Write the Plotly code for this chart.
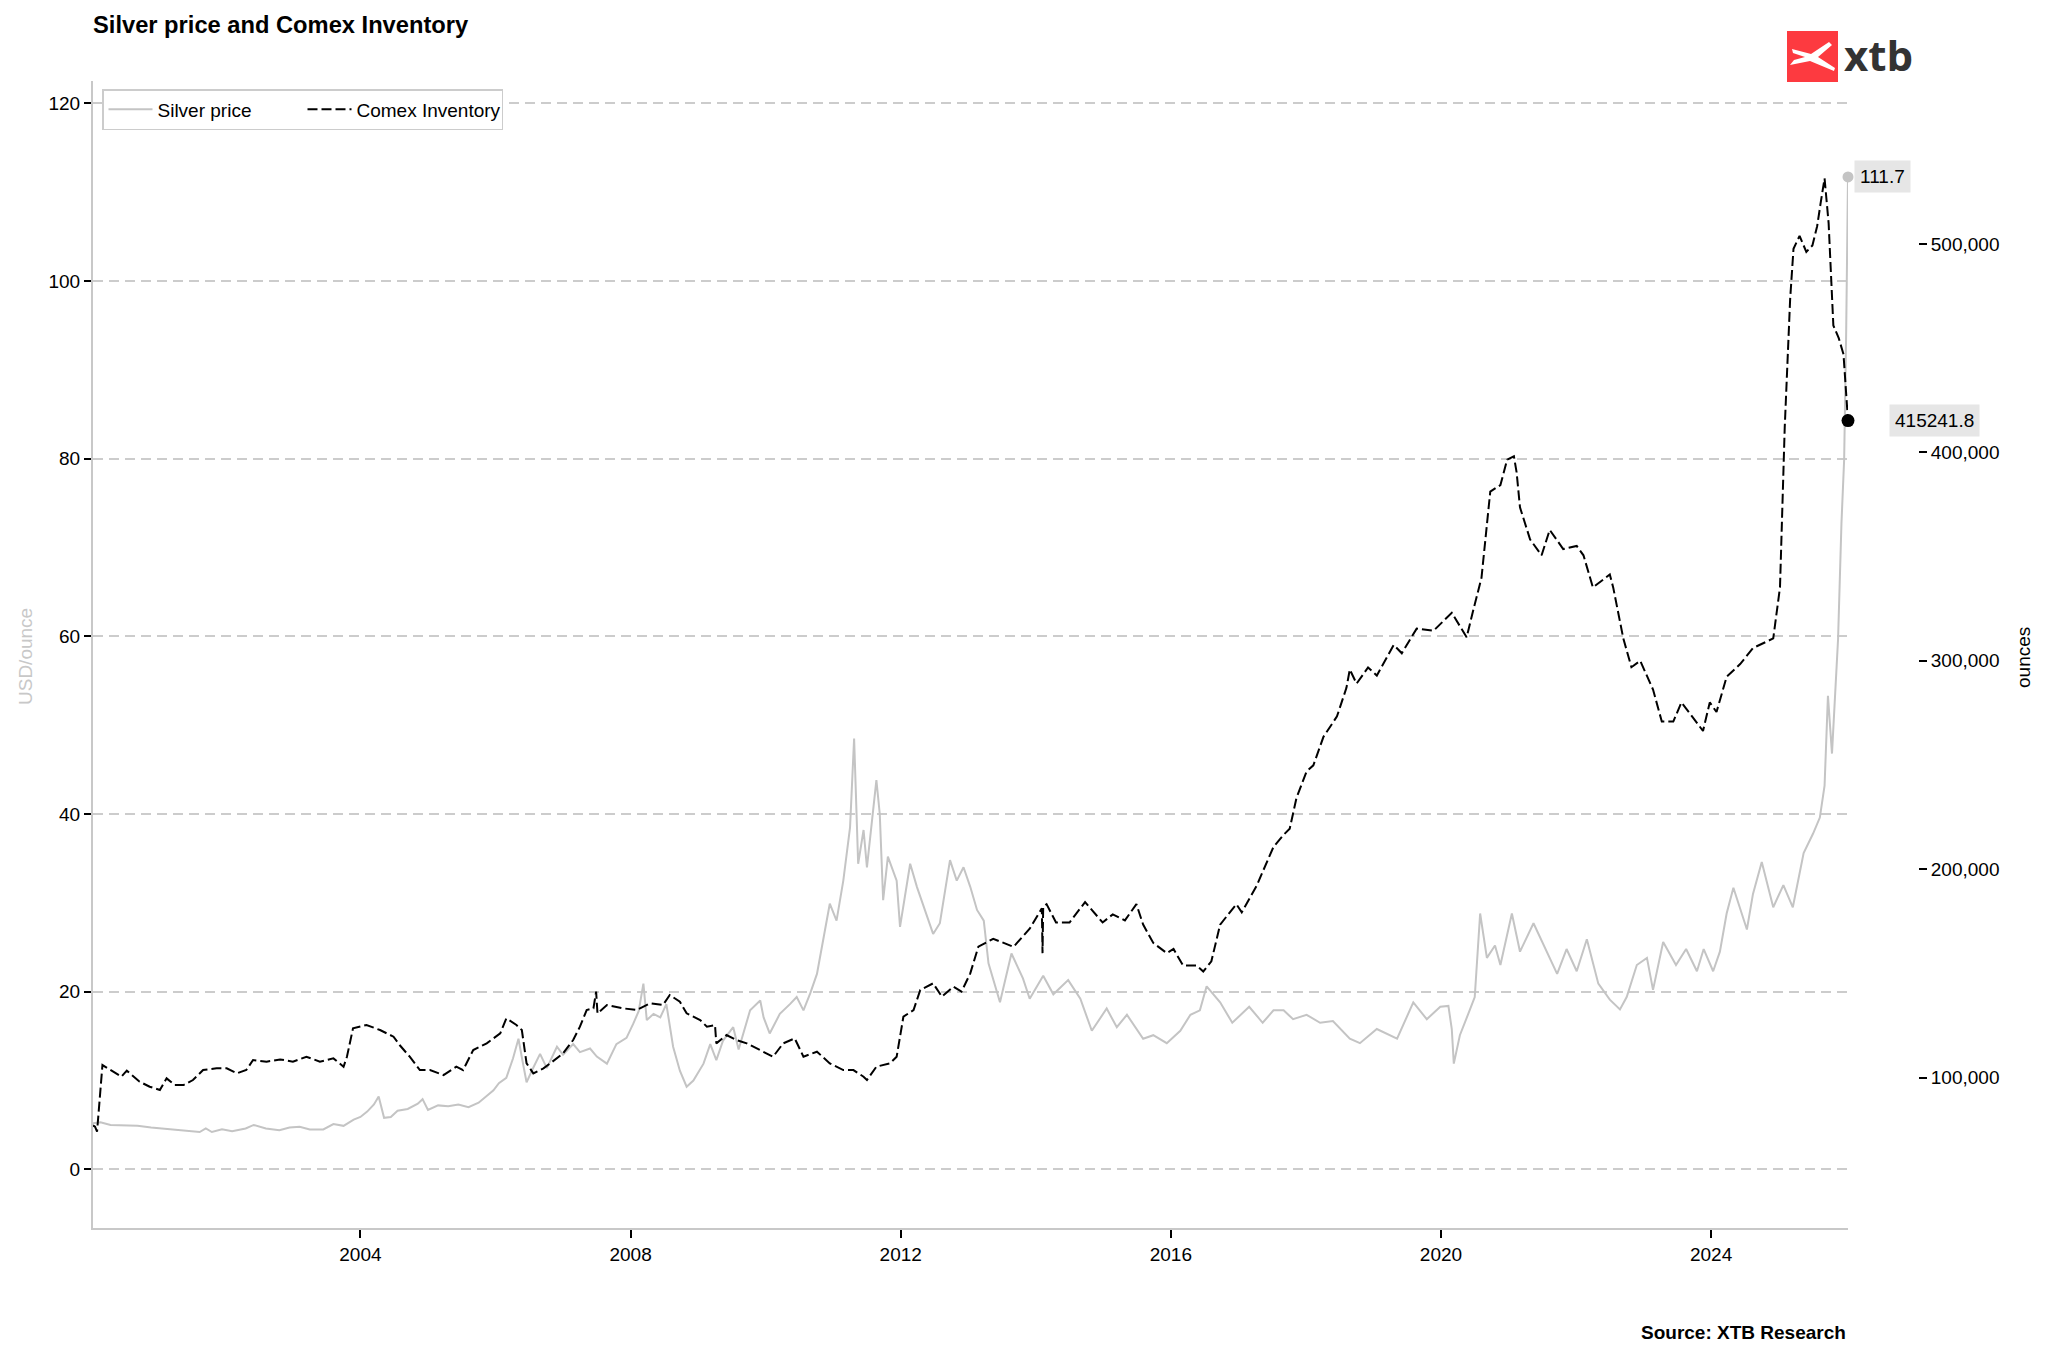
import plotly.graph_objects as go

# ---------------- data ----------------
silver_years = [
    2000.04, 2000.15, 2000.30, 2000.50, 2000.70, 2000.90,
    2001.05, 2001.25, 2001.45, 2001.62, 2001.71, 2001.80, 2001.95,
    2002.10, 2002.30, 2002.42, 2002.60, 2002.80, 2002.95,
    2003.10, 2003.25, 2003.45, 2003.60, 2003.75, 2003.90, 2004.00,
    2004.10, 2004.20, 2004.27, 2004.35, 2004.45, 2004.55, 2004.70, 2004.85, 2004.92, 2005.00,
    2005.15, 2005.30, 2005.45, 2005.60, 2005.75, 2005.87, 2005.97,
    2006.05, 2006.16, 2006.26, 2006.34, 2006.40, 2006.46, 2006.55, 2006.66, 2006.76, 2006.91,
    2007.00, 2007.15, 2007.25, 2007.40, 2007.50, 2007.65, 2007.79, 2007.94,
    2008.04, 2008.12, 2008.19, 2008.24, 2008.34, 2008.44, 2008.53, 2008.63, 2008.73, 2008.83, 2008.93,
    2009.08, 2009.18, 2009.27, 2009.37, 2009.52, 2009.60, 2009.67, 2009.77, 2009.92, 2009.97,
    2010.06, 2010.21, 2010.36, 2010.46, 2010.56, 2010.66, 2010.76, 2010.85, 2010.95,
    2011.05, 2011.15, 2011.25, 2011.31, 2011.37, 2011.45, 2011.50, 2011.59, 2011.64, 2011.69,
    2011.74, 2011.81, 2011.94, 2011.99,
    2012.14, 2012.24, 2012.38, 2012.48, 2012.58, 2012.73, 2012.83, 2012.93,
    2013.03, 2013.13, 2013.23, 2013.30, 2013.47, 2013.64, 2013.81, 2013.91,
    2014.11, 2014.26, 2014.48, 2014.66, 2014.83,
    2015.05, 2015.20, 2015.35, 2015.59, 2015.74, 2015.94,
    2016.14, 2016.29, 2016.43, 2016.53, 2016.73, 2016.91,
    2017.16, 2017.36, 2017.52, 2017.67, 2017.81,
    2018.01, 2018.21, 2018.40, 2018.65, 2018.80,
    2019.05, 2019.35, 2019.59, 2019.79, 2019.99,
    2020.11, 2020.16, 2020.19, 2020.28, 2020.43, 2020.50, 2020.58, 2020.68, 2020.80, 2020.88,
    2021.05, 2021.17, 2021.37, 2021.57, 2021.72, 2021.86,
    2022.01, 2022.16, 2022.33, 2022.50, 2022.65, 2022.75, 2022.90,
    2023.05, 2023.14, 2023.29, 2023.48, 2023.63, 2023.79, 2023.89,
    2024.03, 2024.13, 2024.23, 2024.33, 2024.53, 2024.62, 2024.75, 2024.92,
    2025.07, 2025.21, 2025.37, 2025.51, 2025.61, 2025.68, 2025.73, 2025.79, 2025.84,
    2025.88, 2025.93, 2025.97, 2026.00, 2026.027,
]
silver_prices = [
    5.2, 5.3, 5.0, 4.95, 4.9, 4.7,
    4.6, 4.4, 4.35, 4.2, 4.6, 4.2, 4.5,
    4.3, 4.6, 5.0, 4.6, 4.4, 4.7,
    4.8, 4.5, 4.5, 5.1, 4.9, 5.6, 5.9,
    6.5, 7.3, 8.2, 5.8, 5.9, 6.6, 6.8, 7.4, 7.9, 6.7,
    7.2, 7.1, 7.3, 7.0, 7.5, 8.3, 8.9,
    9.7, 10.3, 12.5, 14.7, 12.2, 9.8, 11.3, 13.0, 11.4, 13.8,
    12.9, 14.1, 13.2, 13.6, 12.7, 11.9, 14.1, 14.8,
    16.4, 17.8, 20.9, 16.8, 17.5, 17.1, 18.6, 13.8, 11.1, 9.3, 10.0,
    11.9, 14.1, 12.3, 14.5, 16.0, 13.5, 15.3, 17.9, 19.0, 17.1,
    15.3, 17.5, 18.6, 19.4, 17.9, 19.8, 22.0, 25.8, 29.9,
    28.0, 32.5, 38.5, 48.5, 34.4, 38.2, 34.0, 40.8, 43.8, 40.0,
    30.3, 35.2, 32.5, 27.3,
    34.4, 31.8, 28.8, 26.5, 27.7, 34.8, 32.5, 34.0,
    31.8, 29.2, 28.0, 23.2, 18.8, 24.3, 21.5, 19.2,
    21.8, 19.7, 21.3, 19.2, 15.6,
    18.1, 16.0, 17.4, 14.7, 15.1, 14.2,
    15.6, 17.4, 17.9, 20.6, 18.8, 16.5,
    18.3, 16.5, 17.9, 17.9, 16.9,
    17.4, 16.5, 16.7, 14.7, 14.2,
    15.8, 14.7, 18.8, 16.9, 18.3,
    18.4, 15.8, 11.9, 15.1, 18.0, 19.4, 28.8, 23.8, 25.2, 23.0,
    28.8, 24.5, 27.7, 24.5, 22.0, 24.8,
    22.3, 25.9, 20.9, 19.1, 18.0, 19.4, 23.0,
    23.8, 20.2, 25.6, 23.0, 24.8, 22.3, 24.8,
    22.3, 24.5, 28.8, 31.7, 27.0, 31.0, 34.6, 29.5,
    32.0, 29.5, 35.6, 37.8, 39.6, 43.2, 53.3, 46.8, 53.3,
    59.7, 72.7, 79.9, 94.3, 111.7,
]

inventory_years = [
    2000.04, 2000.07, 2000.10, 2000.18, 2000.34, 2000.46, 2000.54, 2000.73, 2000.88,
    2001.03, 2001.13, 2001.25, 2001.38, 2001.52, 2001.67, 2001.87,
    2002.02, 2002.17, 2002.31, 2002.41, 2002.61, 2002.81,
    2003.00, 2003.20, 2003.40, 2003.60, 2003.75, 2003.80, 2003.89,
    2004.09, 2004.29, 2004.49, 2004.58, 2004.73, 2004.88,
    2005.03, 2005.23, 2005.42, 2005.52, 2005.67, 2005.87,
    2006.07, 2006.16, 2006.31, 2006.39, 2006.46, 2006.56, 2006.71, 2006.81,
    2007.00, 2007.15, 2007.25, 2007.35, 2007.45, 2007.49, 2007.51, 2007.65, 2007.89,
    2008.09, 2008.29, 2008.48, 2008.58, 2008.73, 2008.83,
    2009.03, 2009.13, 2009.25, 2009.27, 2009.42, 2009.57, 2009.72, 2009.92,
    2010.11, 2010.26, 2010.43, 2010.56, 2010.76, 2010.95,
    2011.15, 2011.30, 2011.45, 2011.50, 2011.64, 2011.84, 2011.94,
    2012.04, 2012.19, 2012.29, 2012.48, 2012.61, 2012.78, 2012.90,
    2013.03, 2013.15, 2013.37, 2013.67, 2013.91,
    2014.09, 2014.10, 2014.11, 2014.16, 2014.30, 2014.50, 2014.73, 2014.99,
    2015.14, 2015.32, 2015.49, 2015.59, 2015.74, 2015.94,
    2016.04, 2016.18, 2016.38, 2016.48, 2016.60, 2016.73, 2016.97,
    2017.05, 2017.27, 2017.52, 2017.67, 2017.76, 2017.86,
    2018.01, 2018.11, 2018.26, 2018.46, 2018.60, 2018.65, 2018.75, 2018.92,
    2019.05, 2019.30, 2019.42, 2019.64, 2019.89,
    2020.16, 2020.38, 2020.48, 2020.60, 2020.73, 2020.88, 2020.98,
    2021.08, 2021.12, 2021.17, 2021.32, 2021.49, 2021.61, 2021.81,
    2022.01, 2022.11, 2022.25, 2022.38, 2022.50, 2022.55, 2022.70, 2022.82, 2022.95,
    2023.14, 2023.27, 2023.44, 2023.56, 2023.74, 2023.88, 2023.98,
    2024.08, 2024.23, 2024.43, 2024.62, 2024.82, 2024.92,
    2025.02, 2025.09, 2025.17, 2025.22, 2025.31, 2025.41, 2025.50, 2025.57, 2025.62,
    2025.68, 2025.74, 2025.81, 2025.89, 2025.96, 2026.027,
]
inventory_values = [
    77000, 76400, 74000, 106000, 102800, 100400, 103300, 98000, 95600,
    94000, 99600, 96400, 96400, 98800, 103600, 104400,
    104400, 102000, 103600, 108400, 107600, 108700,
    107600, 110000, 107600, 109200, 105200, 110000, 123600,
    125200, 122800, 119600, 115600, 110000, 103600,
    103600, 101200, 105200, 103600, 113200, 116400,
    121200, 128400, 125200, 122800, 106800, 102000, 104400, 106800,
    111600, 118000, 124400, 132400, 133200, 141200, 130800, 134800, 133200,
    132400, 135600, 134800, 139600, 136400, 130800,
    127600, 124400, 125200, 116400, 120400, 118000, 116400, 113200,
    110000, 116400, 118800, 110000, 112400, 106800,
    103600, 103600, 100400, 98800, 105200, 106800, 110000,
    129200, 132400, 142000, 145200, 138800, 143600, 141200,
    150000, 162800, 166600, 162700, 171400,
    181200, 159700, 182000, 183200, 174400, 174400, 184200, 174400,
    178300, 175400, 183200, 173400, 164600, 159700,
    161700, 153800, 153800, 150900, 155800, 173400, 183200,
    179300, 192000, 210700, 216500, 219400, 234100,
    246900, 249800, 263500, 273300, 287000, 295800, 289000, 296800,
    292900, 307600, 303600, 315400, 314400,
    323000, 311300, 324500, 339800, 381200, 384300, 396500,
    398100, 390400, 373600, 358200, 350600, 362800, 353600,
    355100, 350600, 335200, 338300, 341400, 335200, 310700, 296900, 300000,
    286200, 270800, 270800, 280000, 272400, 266300, 280000,
    275400, 292300, 298400, 306100, 309200, 310700,
    335200, 411900, 473300, 497700, 503900, 496200, 499300, 508500, 519200,
    531500, 510000, 460900, 454800, 447100, 415241.8,
]

x_tick_values = [2004, 2008, 2012, 2016, 2020, 2024]
x_tick_labels = ["2004", "2008", "2012", "2016", "2020", "2024"]
usd_tick_values = [0, 20, 40, 60, 80, 100, 120]
oz_tick_values = [100000, 200000, 300000, 400000, 500000]

# ---------------- layout geometry ----------------
# targets are page pixels; the page body adds an 8px offset to the figure
W, H = 2048, 1360
OFF = 8
PLOT_L, PLOT_R, PLOT_T, PLOT_B = 93, 1848, 81, 1228   # page pixels of the plot frame
PAPER_R = 1948                                       # page pixel of paper right edge
L = PLOT_L - OFF
T = PLOT_T - OFF
B = H - (PLOT_B - OFF)
R = W - (PAPER_R - OFF)
PW, PH = W - L - R, H - T - B


def px(x):
    return (x - OFF - L) / PW


def py(y):
    return (H - B - (y - OFF)) / PH


FONT = "Liberation Sans, Arial, Helvetica, sans-serif"
GREY_LINE = "#c4c4c4"
SPINE = "#c8c8c8"

fig = go.Figure()

fig.add_trace(go.Scatter(
    x=silver_years, y=silver_prices, name="Silver price", mode="lines",
    line=dict(color=GREY_LINE, width=2), yaxis="y",
))
fig.add_trace(go.Scatter(
    x=inventory_years, y=inventory_values, name="Comex Inventory", mode="lines",
    line=dict(color="black", width=2, dash="10px,4px"), yaxis="y2",
))
fig.add_trace(go.Scatter(
    x=[silver_years[-1]], y=[silver_prices[-1]], mode="markers", showlegend=False,
    marker=dict(color=GREY_LINE, size=11), cliponaxis=False, yaxis="y",
))
fig.add_trace(go.Scatter(
    x=[inventory_years[-1]], y=[inventory_values[-1]], mode="markers", showlegend=False,
    marker=dict(color="black", size=13), cliponaxis=False, yaxis="y2",
))

annotations = [
    dict(x=silver_years[-1], y=silver_prices[-1], xref="x", yref="y",
         text=f"{silver_prices[-1]:.1f}", showarrow=False, xanchor="left", xshift=6,
         bgcolor="#e6e6e6", borderpad=5, font=dict(size=19, color="black", family=FONT)),
    dict(x=inventory_years[-1], y=inventory_values[-1], xref="x", yref="y2",
         text=f"{inventory_values[-1]:.1f}", showarrow=False, xanchor="left", xshift=41,
         bgcolor="#e6e6e6", borderpad=5, font=dict(size=19, color="black", family=FONT)),
    dict(x=px(25), y=py(657), xref="paper", yref="paper", text="USD/ounce",
         textangle=-90, showarrow=False, xanchor="center", yanchor="middle",
         font=dict(size=19, color="#c8c8c8", family=FONT)),
    dict(x=px(2023), y=py(657), xref="paper", yref="paper", text="ounces",
         textangle=-90, showarrow=False, xanchor="center", yanchor="middle",
         font=dict(size=19, color="black", family=FONT)),
    dict(x=px(1848), y=py(1332), xref="paper", yref="paper",
         text="<b>Source: XTB Research</b>", showarrow=False,
         xanchor="right", yanchor="middle",
         font=dict(size=19, color="black", family=FONT)),
    dict(x=px(1842), y=py(54), xref="paper", yref="paper", text="<b>xtb</b>",
         showarrow=False, xanchor="left", yanchor="middle",
         font=dict(size=42, color="#333333", family="Open Sans, Roboto, sans-serif")),
]

# logo: red square with white stylised X
shapes = [
    dict(type="rect", xref="paper", yref="paper",
         x0=px(1787), x1=px(1838), y0=py(82), y1=py(31),
         fillcolor="#fd3a40", line=dict(width=0), layer="above"),
]
x_mark = [(1792, 49), (1811, 54), (1829, 42), (1832, 45), (1818, 57), (1835, 68),
          (1834, 71), (1810, 61), (1790, 65), (1794, 60), (1805, 57), (1793, 53)]
path = "M " + " L ".join(f"{px(a):.5f},{py(b):.5f}" for a, b in x_mark) + " Z"
shapes.append(dict(type="path", xref="paper", yref="paper", path=path,
                   fillcolor="white", line=dict(width=0), layer="above"))

fig.update_layout(
    width=W, height=H,
    margin=dict(l=L, r=R, t=T, b=B, autoexpand=False),
    paper_bgcolor="white", plot_bgcolor="white",
    font=dict(family=FONT, size=19, color="black"),
    title=dict(text="<b>Silver price and Comex Inventory</b>",
               x=(PLOT_L - OFF) / W, xanchor="left", xref="container",
               y=1 - (25 - OFF) / H, yanchor="middle", yref="container",
               font=dict(size=23.7, color="black", family=FONT)),
    xaxis=dict(domain=[0, px(PLOT_R)], range=[2000.04, 2026.027],
               tickvals=x_tick_values, ticktext=x_tick_labels,
               showline=True, linecolor=SPINE, linewidth=2,
               ticks="outside", ticklen=8, tickwidth=1.5, tickcolor="black",
               showgrid=False, zeroline=False,
               tickfont=dict(size=19, color="black")),
    yaxis=dict(range=[-6.6, 122.5], tickvals=usd_tick_values,
               showline=True, linecolor=SPINE, linewidth=2,
               ticks="outside", ticklen=7, tickwidth=1.5, tickcolor="black",
               showgrid=True, gridcolor="#cccccc", gridwidth=1.5, griddash="10px,6px",
               zeroline=False, tickfont=dict(size=19, color="black")),
    yaxis2=dict(overlaying="y", side="right", anchor="free", position=px(1918),
                range=[27800, 578200], tickvals=oz_tick_values, tickformat=",d",
                showline=False, showgrid=False, zeroline=False,
                ticks="outside", ticklen=8, tickwidth=1.5, tickcolor="black",
                tickfont=dict(size=19, color="black")),
    legend=dict(orientation="h", x=px(102), y=py(89), xanchor="left", yanchor="top",
                bgcolor="white", bordercolor="#cccccc", borderwidth=1.5,
                font=dict(size=19, color="black", family=FONT),
                itemwidth=44, entrywidth=140, entrywidthmode="pixels",
                tracegroupgap=0),
    showlegend=True,
    annotations=annotations,
    shapes=shapes,
)

fig.write_html("out.html")
